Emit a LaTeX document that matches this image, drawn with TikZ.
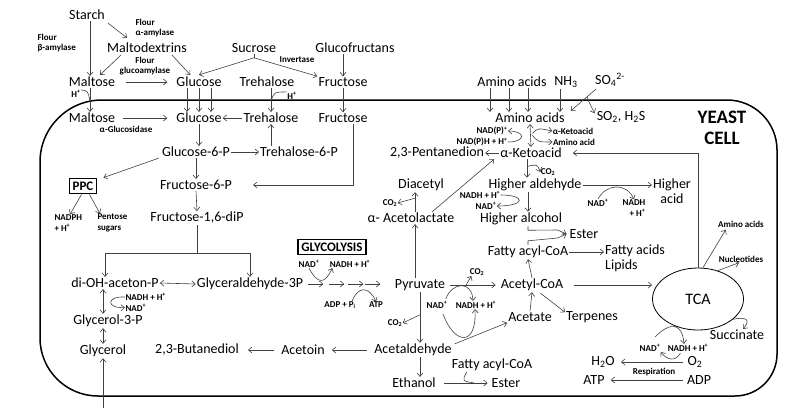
\documentclass[tikz,border=0pt]{standalone}
\usepackage{fontspec}
\setmainfont{Carlito}
\usetikzlibrary{shapes.geometric,positioning,calc,arrows.meta}
\tikzset{MET/.style={inner sep=1pt,font=\fontsize{14}{15}\selectfont}}
\tikzset{SMALL/.style={inner sep=0.3pt,align=center,font=\bfseries\fontsize{9}{10.5}\selectfont}}
\tikzset{BOX/.style={draw,very thick,inner sep=3.5pt,font=\bfseries\fontsize{13}{13}\selectfont}}
\tikzset{ARROW/.style={semithick,draw=black!75,-{Straight Barb[length=3.5pt,width=6pt]}}}
\tikzset{DARROW/.style={semithick,draw=black!75,{Straight Barb[length=3.5pt,width=6pt]}-{Straight Barb[length=3.5pt,width=6pt]}}}
\tikzset{LINE/.style={semithick,draw=black!75}}
\tikzset{CELL/.style={line width=1.5pt}}
\newcommand{\plus}{\textsuperscript{+}}

\begin{document}
\begin{tikzpicture}[x=1pt,y=-1pt]
\useasboundingbox (0,0) rectangle (799,418);

\draw[CELL] (400,100) [rounded corners=50pt] -| (777,250) [rounded corners=42pt] |- (400,396) [rounded corners=58pt] -| (40,250) [rounded corners=62pt] |- (400,100);

% outside the cell
\node[MET] (n_starch) at (87,15) {Starch};
\node[SMALL,align=left,anchor=west] (n_flour_a) at (135,28) {Flour\\α-amylase};
\node[SMALL,align=left,anchor=west] (n_flour_b) at (37,43) {Flour\\β-amylase};
\node[MET] (n_maltodex) at (147,48) {Maltodextrins};
\node[MET] (n_sucrose) at (254,48) {Sucrose};
\node[MET] (n_glucofruc) at (355,48) {Glucofructans};
\node[SMALL] (n_flour_g) at (145,66) {Flour\\glucoamylase};
\node[SMALL] (n_invertase) at (297,60) {Invertase};
\node[MET] (n_maltose_out) at (92,82) {Maltose};
\node[MET] (n_glc_out) at (199,82) {Glucose};
\node[MET] (n_tre_out) at (267,82) {Trehalose};
\node[MET] (n_fru_out) at (343,82) {Fructose};
\node[SMALL] (n_hplus_a) at (76,94) {H\plus};
\node[SMALL] (n_hplus_b) at (292,96) {H\plus};
\node[MET] (n_aa_out) at (512,82) {Amino acids};
\node[MET] (n_nh3) at (566,82) {NH\textsubscript{3}};
\node[MET] (n_so4) at (610,80) {SO\textsubscript{4}\textsuperscript{2-}};

% inside the cell
\node[MET] (n_maltose_in) at (92,118) {Maltose};
\node[MET] (n_glc_in) at (199,118) {Glucose};
\node[MET] (n_tre_in) at (271,118) {Trehalose};
\node[MET] (n_fru_in) at (343,118) {Fructose};
\node[SMALL] (n_agluc) at (126,129) {α-Glucosidase};
\node[MET] (n_aa_in) at (530,118) {Amino acids};
\node[MET] (n_so2) at (621,117) {SO\textsubscript{2}, H\textsubscript{2}S};
\node[font=\bfseries\fontsize{19}{21}\selectfont,align=center] (n_yeast) at (722,128) {YEAST\\CELL};

\node[SMALL] (n_nadp) at (492,131) {NAD(P)\plus};
\node[SMALL] (n_nadph2) at (482,142) {NAD(P)H + H\plus};
\node[SMALL] (n_keto_s) at (573,131) {α-Ketoacid};
\node[SMALL] (n_aa_s) at (574,142) {Amino acid};
\node[MET] (n_pentanedion) at (437,153) {2,3-Pentanedion};
\node[MET] (n_keto) at (531,153) {α-Ketoacid};
\node[MET] (n_g6p) at (196,152) {Glucose-6-P};
\node[MET] (n_t6p) at (299,152) {Trehalose-6-P};
\node[BOX] (n_ppc) at (83,186) {PPC};
\node[MET] (n_f6p) at (196,185) {Fructose-6-P};
\node[MET] (n_f16) at (197,218) {Fructose-1,6-diP};
\node[SMALL,align=left,anchor=west] (n_nadph) at (54,223) {NADPH\\+ H\plus};
\node[SMALL,align=left,anchor=west] (n_pentose) at (97,223) {Pentose\\sugars};
\node[SMALL] (n_co2_keto) at (548,172) {CO\textsubscript{2}};
\node[MET] (n_diacetyl) at (421,185) {Diacetyl};
\node[MET] (n_haldehyde) at (535,185) {Higher aldehyde};
\node[MET,align=center] (n_hacid) at (672,191) {Higher\\acid};
\node[SMALL] (n_hacid_nad) at (598,203) {NAD\plus};
\node[SMALL,align=right] (n_hacid_nadh) at (634,208) {NADH\\+ H\plus};
\node[SMALL] (n_hal_nadh) at (480,195) {NADH + H\plus};
\node[SMALL] (n_hal_nad) at (486,206) {NAD\plus};
\node[SMALL] (n_co2_acl) at (390,203) {CO\textsubscript{2}};
\node[MET] (n_acetolac) at (411,218) {α- Acetolactate};
\node[MET] (n_halcohol) at (521,219) {Higher alcohol};
\node[MET] (n_ester_m) at (584,234) {Ester};
\node[MET] (n_fattyacyl_m) at (528,252) {Fatty acyl-CoA};
\node[MET,align=left,anchor=west] (n_fattyacids) at (604,258) {Fatty acids\\Lipids};
\node[SMALL] (n_aa_tca) at (741,224) {Amino acids};
\node[SMALL] (n_nucl) at (741,259) {Nucleotides};
\node[BOX] (n_glyco) at (332,247) {GLYCOLYSIS};
\node[SMALL] (n_glyco_nad) at (309,264) {NAD\plus};
\node[SMALL] (n_glyco_nadh) at (350,264) {NADH + H\plus};
\node[MET] (n_dhap) at (115,283) {di-OH-aceton-P};
\node[MET] (n_gap) at (250,284) {Glyceraldehyde-3P};
\node[MET] (n_pyr) at (420,285) {Pyruvate};
\node[SMALL] (n_co2_pdh) at (477,272) {CO\textsubscript{2}};
\node[MET] (n_accoa) at (532,285) {Acetyl-CoA};
\node[draw,ellipse,thick,minimum width=91pt,minimum height=62pt,inner sep=0pt,font=\fontsize{16}{16}\selectfont] (n_tca) at (698,299) {TCA};
\node[SMALL,anchor=west] (n_gly_nadh) at (125,297) {NADH + H\plus};
\node[SMALL,anchor=west] (n_gly_nad) at (125,307.5) {NAD\plus};
\node[SMALL] (n_adp) at (340,305) {ADP + P\textsubscript{i}};
\node[SMALL] (n_atp) at (376,305) {ATP};
\node[SMALL] (n_pdh_nad) at (437,305) {NAD\plus};
\node[SMALL] (n_pdh_nadh) at (476,305) {NADH + H\plus};
\node[MET] (n_g3p) at (108,321) {Glycerol-3-P};
\node[SMALL] (n_co2_pyr) at (395,323) {CO\textsubscript{2}};
\node[MET] (n_acetate) at (530,317) {Acetate};
\node[MET] (n_terpenes) at (592,317) {Terpenes};
\node[MET] (n_succ) at (737,335) {Succinate};
\node[SMALL] (n_tca_nad) at (650,348) {NAD\plus};
\node[SMALL] (n_tca_nadh) at (688,348) {NADH + H\plus};
\node[MET] (n_glycerol) at (103,351) {Glycerol};
\node[MET] (n_butanediol) at (197,350) {2,3-Butanediol};
\node[MET] (n_acetoin) at (303,350) {Acetoin};
\node[MET] (n_acetald) at (413,350) {Acetaldehyde};
\node[MET] (n_h2o) at (603,362) {H\textsubscript{2}O};
\node[MET] (n_o2) at (695,362) {O\textsubscript{2}};
\node[MET] (n_fattyacyl_b) at (492,365) {Fatty acyl-CoA};
\node[SMALL] (n_resp) at (654,372) {Respiration};
\node[MET] (n_atp_r) at (594,380) {ATP};
\node[MET] (n_adp_r) at (699,380) {ADP};
\node[MET] (n_ethanol) at (414,383) {Ethanol};
\node[MET] (n_ester_b) at (506,383) {Ester};
\coordinate (c_ext) at (103,408);

% uptake and hydrolysis
\draw[ARROW] ($(n_starch.south)+(3,0)$) -- ($(n_maltose_out.north)+(-2,0)$);
\draw[ARROW] ($(n_starch.south east)+(2,2)$) -- ($(n_maltodex.north)+(-20,-4)$);
\draw[ARROW] ($(n_maltodex.south west)+(15,1)$) -- ($(n_maltose_out.north)+(8,-1)$);
\draw[ARROW] ($(n_maltodex.south east)+(-16,1)$) -- ($(n_glc_out.north west)+(15,-1)$);
\draw[LINE] (n_sucrose.south) -- ++(0,4) coordinate (c_suc);
\draw[ARROW] (c_suc) -- ($(n_glc_out.north)+(0,-1)$);
\draw[ARROW] (c_suc) -- (n_fru_out.north west);
\draw[ARROW] (n_fru_out.north |- n_glucofruc.south) -- (n_fru_out.north);
\draw[ARROW] ($(n_maltose_out.east)+(10,0)$) -- ($(n_glc_out.west)+(-8,0)$);

% transport across the membrane
\draw[ARROW] ($(n_maltose_out.south)+(-2,0)$) -- ($(n_maltose_in.north)+(-2,0)$);
\draw[LINE] (n_hplus_a.north east) .. controls (88,91) .. ($(n_maltose_out.south)!0.55!(n_maltose_in.north)+(-2,0)$);
\foreach \dx in {-12,0,12}
  \draw[ARROW] ($(n_glc_out.south)+(\dx,0)$) -- ($(n_glc_in.north)+(\dx,0)$);
\draw[ARROW] (n_tre_in.north |- n_tre_out.south) -- (n_tre_in.north);
\draw[LINE] (n_hplus_b.north west) .. controls (274,92) .. ($(n_tre_in.north |- n_tre_out.south)!0.55!(n_tre_in.north)$);
\draw[ARROW] (n_fru_out.south) -- (n_fru_in.north);
\foreach \dx in {-22,-3,16}
  \draw[ARROW] ($(n_aa_out.south)+(\dx,0)$) -- ($(n_aa_out.south |- n_aa_in.north)+(\dx,0)$);
\draw[ARROW] ($(n_nh3.south)+(-6,0)$) -- ($(n_nh3.south |- n_aa_in.north)+(-6,0)$);
\draw[ARROW] ($(n_so4.south west)+(2,1)$) -- coordinate[pos=0.35] (c_so) ($(n_aa_in.north east)+(5,-1)$);
\draw[ARROW] (c_so) .. controls (588,100) .. ($(n_so2.north west)+(-1,3)$);

% sugars and glycolysis
\draw[ARROW] ($(n_maltose_in.east)+(7,0)$) -- ($(n_glc_in.west)+(-8,0)$);
\draw[ARROW] (n_tre_in.west) -- (n_glc_in.east);
\draw[ARROW] (n_glc_in.south) -- (n_glc_in.south |- n_g6p.north);
\draw[ARROW] (n_tre_in.south |- n_t6p.north) -- (n_tre_in.south);
\draw[ARROW] ($(n_fru_in.south)+(10,0)$) |- ($(n_f6p.east)+(20,0)$);
\draw[ARROW] (n_g6p.east) -- (n_t6p.west);
\draw[ARROW] ($(n_g6p.south west)+(-2,0)$) -- ($(n_ppc.north east)+(6,0)$);
\draw[ARROW] (n_g6p.south) -- (n_f6p.north);
\draw[ARROW] (n_f6p.south) -- (n_f16.north);
\draw[ARROW] ($(n_ppc.south west)+(13,0)$) -- ($(n_nadph.north west)+(16,0)$);
\draw[ARROW] ($(n_ppc.south east)+(-8,0)$) -- ($(n_pentose.north west)+(3,0)$);
\draw[LINE] (n_f16.south) -- ++(0,28) coordinate (c_split);
\draw[ARROW] (c_split) -| ($(n_dhap.north)+(-10,0)$);
\draw[ARROW] (c_split) -| (n_gap.north);
\draw[DARROW] (n_dhap.east) -- (n_gap.west);
\foreach \s in {4,25,44,61}
  \draw[ARROW] ($(n_gap.east)+(\s,0)$) -- ++(15,0);
\draw[ARROW] (n_glyco_nad.south) .. controls (318,285) and (325,284) .. ($(n_glyco_nadh.south west)+(3,0)$);
\draw[ARROW] ($(n_adp.north east)+(-4,0)$) .. controls (358,286) and (369,286) .. (n_atp.north);
\draw[DARROW] ($(n_dhap.south)+(-12,0)$) -- ($(n_g3p.north)+(-5,0)$);
\draw[ARROW] (n_gly_nadh.west) .. controls (106,296) and (106,308.5) .. (n_gly_nad.west);
\draw[DARROW] (n_g3p.south -| n_glycerol.north) -- (n_glycerol.north);
\draw[ARROW] (c_ext) -- (n_glycerol.south);

% pyruvate and its products
\draw[ARROW] (n_pyr.south) -- (n_pyr.south |- n_acetald.north);
\draw[ARROW] ($(n_pyr.south)!0.45!(n_pyr.south |- n_acetald.north)$) -- (n_co2_pyr.east);
\draw[ARROW] ($(n_acetald.west)+(-6,0)$) -- ($(n_acetoin.east)+(6,0)$);
\draw[ARROW] ($(n_acetoin.west)+(-6,0)$) -- ($(n_butanediol.east)+(8,0)$);
\draw[ARROW] (n_acetald.south -| n_pyr.south) -- (n_ethanol.north -| n_pyr.south);
\draw[ARROW] ($(n_ethanol.east)+(7,0)$) -- coordinate[pos=0.7] (c_ester) ($(n_ester_b.west)+(-3,0)$);
\draw[LINE] ($(n_fattyacyl_b.south west)+(16,0)$) .. controls (462,381) .. (c_ester);
\draw[ARROW] ($(n_pyr.north)+(-5,0)$) -- ($(n_acetolac.south)+(4,0)$);
\draw[ARROW] ($(n_acetolac.north)+(4,0)$) -- ($(n_diacetyl.south)+(-6,0)$);
\draw[ARROW] ($(n_diacetyl.south)+(-6,6)$) -- (n_co2_acl.east);
\draw[ARROW] ($(n_acetolac.north)+(21,0)$) -- ($(n_keto.south west)+(-5,0)$);
\draw[ARROW] ($(n_pyr.east)+(4,0)$) -- coordinate[pos=0.35] (c_pdh) ($(n_accoa.west)+(-4,0)$);
\draw[ARROW] (c_pdh) -- ($(n_co2_pdh.south west)+(2,0)$);
\draw[ARROW] ($(n_pdh_nad.north east)+(-2,-2)$) .. controls (452,282) and (472,280) .. ($(n_pdh_nadh.north)+(-3,0)$);
\draw[ARROW] ($(n_pdh_nad.south)+(6,5)$) .. controls (455,346) and (477,346) .. ($(n_pdh_nadh.south)+(-1,0)$);
\draw[ARROW] ($(n_acetald.north east)+(2,1)$) -- (n_acetate.south west);
\draw[ARROW] (n_acetate.north) -- (n_accoa.south);
\draw[ARROW] ($(n_accoa.south east)+(-24,1)$) -- ($(n_terpenes.north west)+(0,2)$);
\draw[ARROW] ($(n_accoa.east)+(10,0)$) -- (n_tca.west |- n_accoa.east);
\draw[ARROW] (n_accoa.north) -- (n_fattyacyl_m.south);
\draw[ARROW] (n_fattyacyl_m.east) -- (n_fattyacids.west |- n_fattyacyl_m.east);

% amino acids and higher alcohols
\draw[DARROW] (n_aa_in.south) -- coordinate[pos=0.45] (c_ta) (n_keto.north);
\draw[ARROW] (n_nadph2.east) .. controls (526,142) and (526,131) .. (n_nadp.east);
\draw[ARROW] ($(c_ta)+(2,-1)$) .. controls (538,128) .. (n_keto_s.west);
\draw[ARROW] ($(c_ta)+(2,1)$) .. controls (538,142) .. (n_aa_s.west);
\draw[ARROW] (n_keto.west) -- (n_pentanedion.east);
\draw[ARROW] ($(n_keto.south)+(-4,0)$) -- coordinate[pos=0.4] (c_dc) ($(n_haldehyde.north)+(-8,0)$);
\draw[ARROW] (c_dc) .. controls (537,164) .. (n_co2_keto.west);
\draw[ARROW] ($(n_haldehyde.south)+(-7,0)$) -- ($(n_halcohol.north)+(7,0)$);
\draw[ARROW] (n_hal_nadh.east) .. controls (526,195) and (526,206) .. (n_hal_nad.east);
\draw[ARROW] (n_haldehyde.east) -- (n_hacid.west |- n_haldehyde.east);
\draw[ARROW] (n_hacid_nad.north) .. controls (606,184) and (626,182) .. ($(n_hacid_nadh.north)+(0,0)$);
\coordinate (c_est) at ($(n_ester_m.west)+(-2,0)$);
\draw[ARROW] ($(n_halcohol.south)+(7,0)$) -- ++(0,4) -- ($(c_est)+(-9,-4)$) -- (c_est);
\draw[ARROW] ($(n_fattyacyl_m.north)+(0,0)$) -- ++(0,-4) -- ($(c_est)+(-9,4)$) -- (c_est);

% TCA cycle and respiration
\draw[ARROW] (n_tca.north) |- ($(n_keto.east)+(10,0)$);
\draw[ARROW] ($(n_tca.north)+(5,0)$) -- ($(n_aa_tca.south west)+(8,2)$);
\draw[ARROW] (n_tca.55) -- ($(n_nucl.south)+(-2,0)$);
\draw[ARROW] (n_tca.330) .. controls (750,316) and (749,322) .. ($(n_succ.north)+(6,0)$);
\draw[ARROW] ($(n_tca_nad.north)+(5,-7)$) .. controls (670,322) and (682,322) .. ($(n_tca_nadh.north)+(-4,0)$);
\draw[ARROW] ($(n_o2.north west)+(-6,-2)$) .. controls (675,362) and (667,360) .. (n_tca_nad.south east);
\draw[ARROW] ($(n_o2.west)+(-3,0)$) -- ($(n_h2o.east)+(5,0)$);
\draw[ARROW] ($(n_adp_r.west)+(-3,0)$) -- ($(n_atp_r.east)+(5,0)$);

\end{tikzpicture}
\end{document}
